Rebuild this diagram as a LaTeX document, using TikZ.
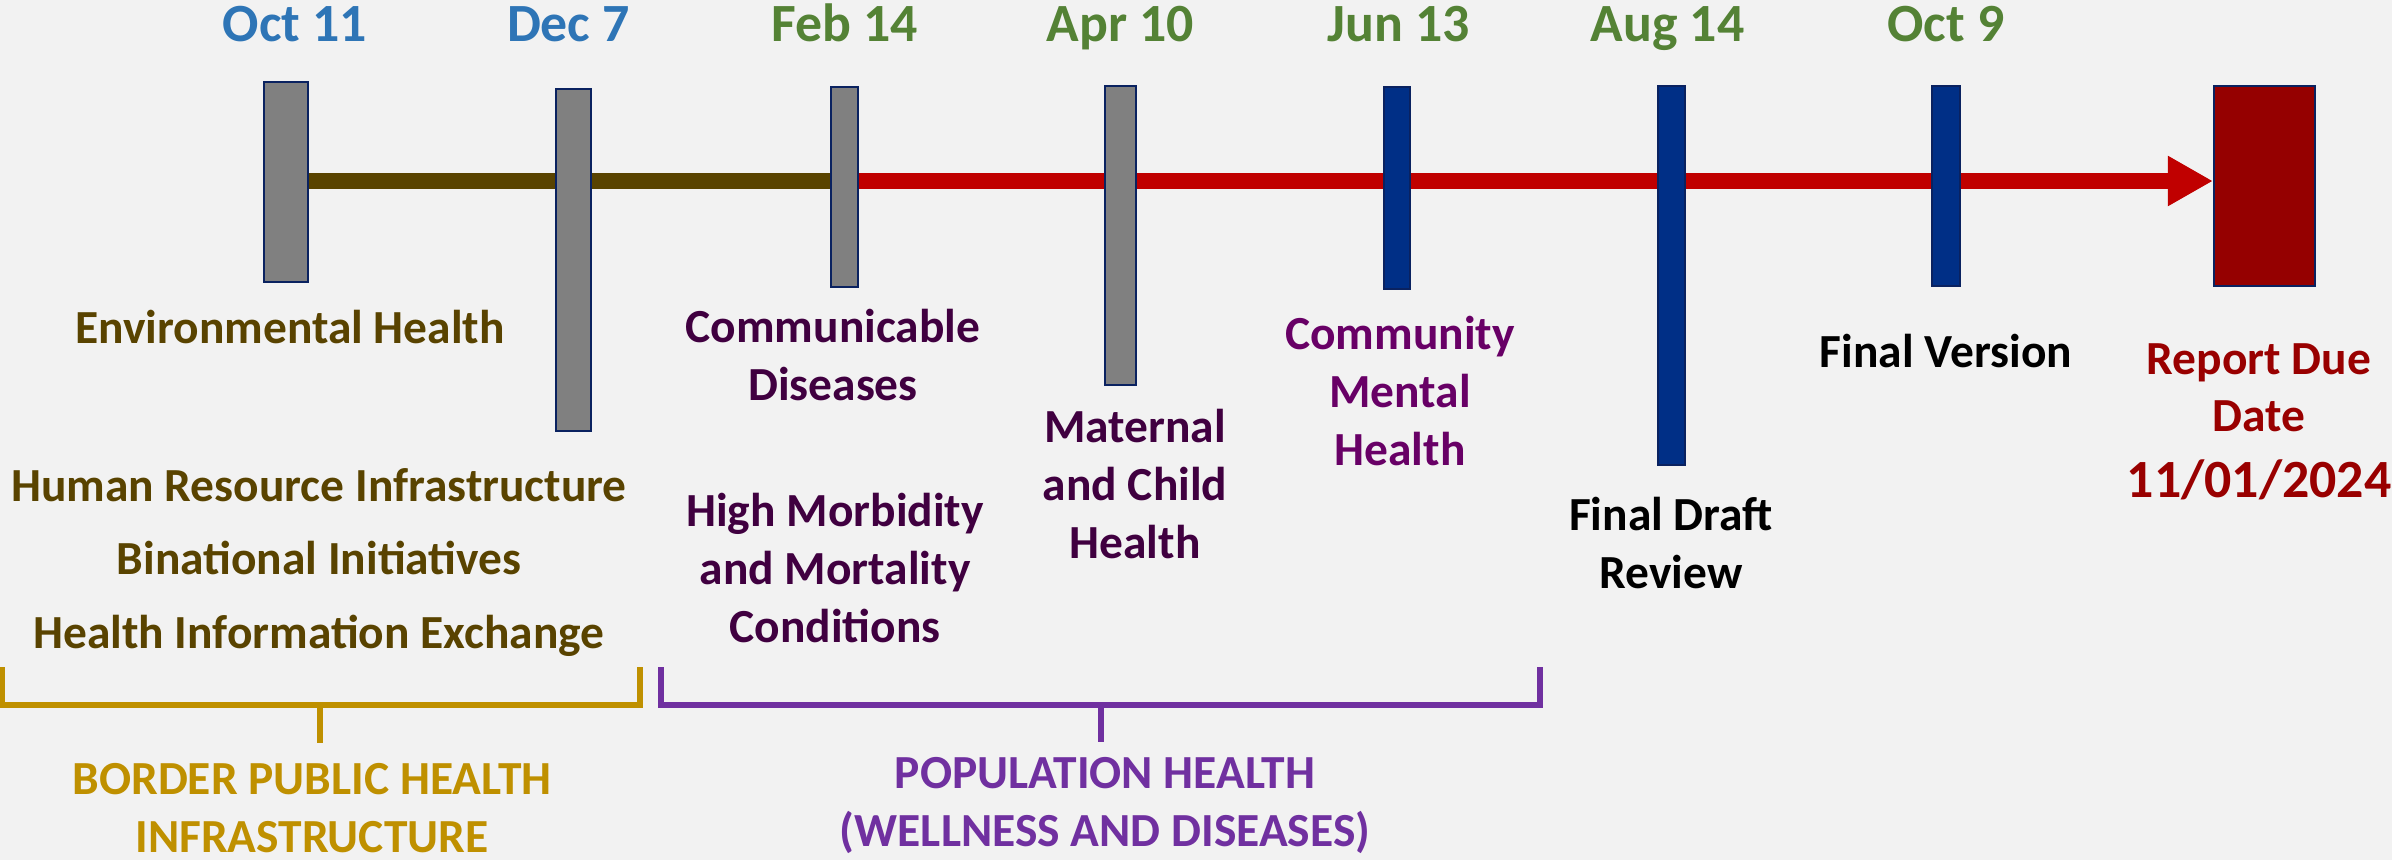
\documentclass[tikz,border=0pt]{standalone}
\usepackage{fontspec}
\setmainfont{Carlito}
\usetikzlibrary{arrows.meta,backgrounds}

\definecolor{bgcol}{HTML}{F2F2F2}
\definecolor{dateblue}{HTML}{2E75B6}
\definecolor{dategreen}{HTML}{548235}
\definecolor{brown}{HTML}{594300}
\definecolor{redline}{HTML}{C00000}
\definecolor{barfill}{HTML}{808080}
\definecolor{navy}{HTML}{0A2260}
\definecolor{bluefill}{HTML}{002F86}
\definecolor{duefill}{HTML}{950000}
\definecolor{duetext}{HTML}{990000}
\definecolor{plum}{HTML}{400040}
\definecolor{magenta}{HTML}{680066}
\definecolor{purple}{HTML}{7030A0}
\definecolor{gold}{HTML}{BF9000}

\begin{document}
\begin{tikzpicture}[x=0.01cm, y=-0.01cm,
	bar/.style={draw=navy, line width=0.6pt, inner sep=0pt},
	graybar/.style={bar, fill=barfill},
	bluebar/.style={bar, fill=bluefill},
	date/.style={font=\fontsize{15.3}{18}\selectfont\bfseries, anchor=base, inner sep=0pt},
	topic/.style={font=\fontsize{13.5}{16.4}\selectfont\bfseries, align=center, anchor=base, inner sep=0pt},
	bracket/.style={line width=1.55pt}]

\def\width{2392}
\def\height{860}

\path [use as bounding box] (0,0) rectangle (\width,\height);

% MILESTONES
\node [graybar, minimum width=0.44cm, minimum height=2.00cm] (o11) at (286,182) {};
\node [graybar, minimum width=0.35cm, minimum height=3.42cm] (d7) at (573.5,260) {};
\node [graybar, minimum width=0.27cm, minimum height=2.00cm] (f14) at (844.5,187) {};
\node [graybar, minimum width=0.31cm, minimum height=2.99cm] (a10) at (1120.5,235.5) {};
\node [bluebar, minimum width=0.26cm, minimum height=2.02cm] (j13) at (1397,188) {};
\node [bluebar, minimum width=0.27cm, minimum height=3.79cm] (a14) at (1671.5,275.5) {};
\node [bluebar, minimum width=0.28cm, minimum height=2.00cm] (o9) at (1946,186) {};
\node [bar, fill=duefill, minimum width=1.01cm, minimum height=2.00cm] (due) at (2264.5,186) {};

% TIMELINE
\coordinate (tl) at (0,181);
\begin{scope}[on background layer]
\fill [bgcol] (0,0) rectangle (\width,\height);
\draw [brown, line width=0.16cm] (o11.east |- tl) -- (f14.west |- tl);
\draw [redline, line width=0.16cm, -{Triangle[length=0.45cm, width=0.47cm]}] (f14.east |- tl) -- (due.west |- tl);
\end{scope}

% DATES
\coordinate (datey) at (0,41);
\foreach \m/\d/\c/\s in {o11/Oct 11/dateblue/9, d7/Dec 7/dateblue/-5, f14/Feb 14/dategreen/0, a10/Apr 10/dategreen/0,
	j13/Jun 13/dategreen/2, a14/Aug 14/dategreen/-4, o9/Oct 9/dategreen/0}
	\node [date, text=\c, xshift=\s*0.01cm] (\m-date) at (\m |- datey) {\d};

% TOPICS (base = last line)
\node [topic, text=brown] (env) at (290,343) {Environmental Health};
\node [topic, text=brown] (hri) at (319,648) {Human Resource Infrastructure\\[0.155cm]Binational Initiatives\\[0.155cm]Health Information Exchange};
\node [topic, text=plum] (cd) at (833,400) {Communicable\\Diseases};
\node [topic, text=plum] (hmm) at (835,642) {High Morbidity\\and Mortality\\Conditions};
\node [topic, text=plum] (mch) at (1135,558) {Maternal\\and Child\\Health};
\node [topic, text=magenta] (cmh) at (1400,465) {Community\\Mental\\Health};
\node [topic] (fdr) at (1671,588) {Final Draft\\Review};
\node [topic] (fv) at (1946,367) {Final Version};
\node [topic, text=duetext] (rdd) at (2259,497) {Report Due\\Date\\[0.074cm]{\fontsize{15.3}{18}\selectfont 11/01/2024}};

% GROUPS
\draw [bracket, gold] (2,667) -- (2,705) -- (640,705) -- (640,667);
\draw [bracket, gold] (320,705) -- (320,743);
\node [topic, text=gold] (bph) at (312,852) {BORDER PUBLIC HEALTH\\INFRASTRUCTURE};
\draw [bracket, purple] (661,667) -- (661,705) -- (1540,705) -- (1540,667);
\draw [bracket, purple] (1101,705) -- (1101,742);
\node [topic, text=purple] (poph) at (1105,846) {POPULATION HEALTH\\(WELLNESS AND DISEASES)};

\end{tikzpicture}
\end{document}
